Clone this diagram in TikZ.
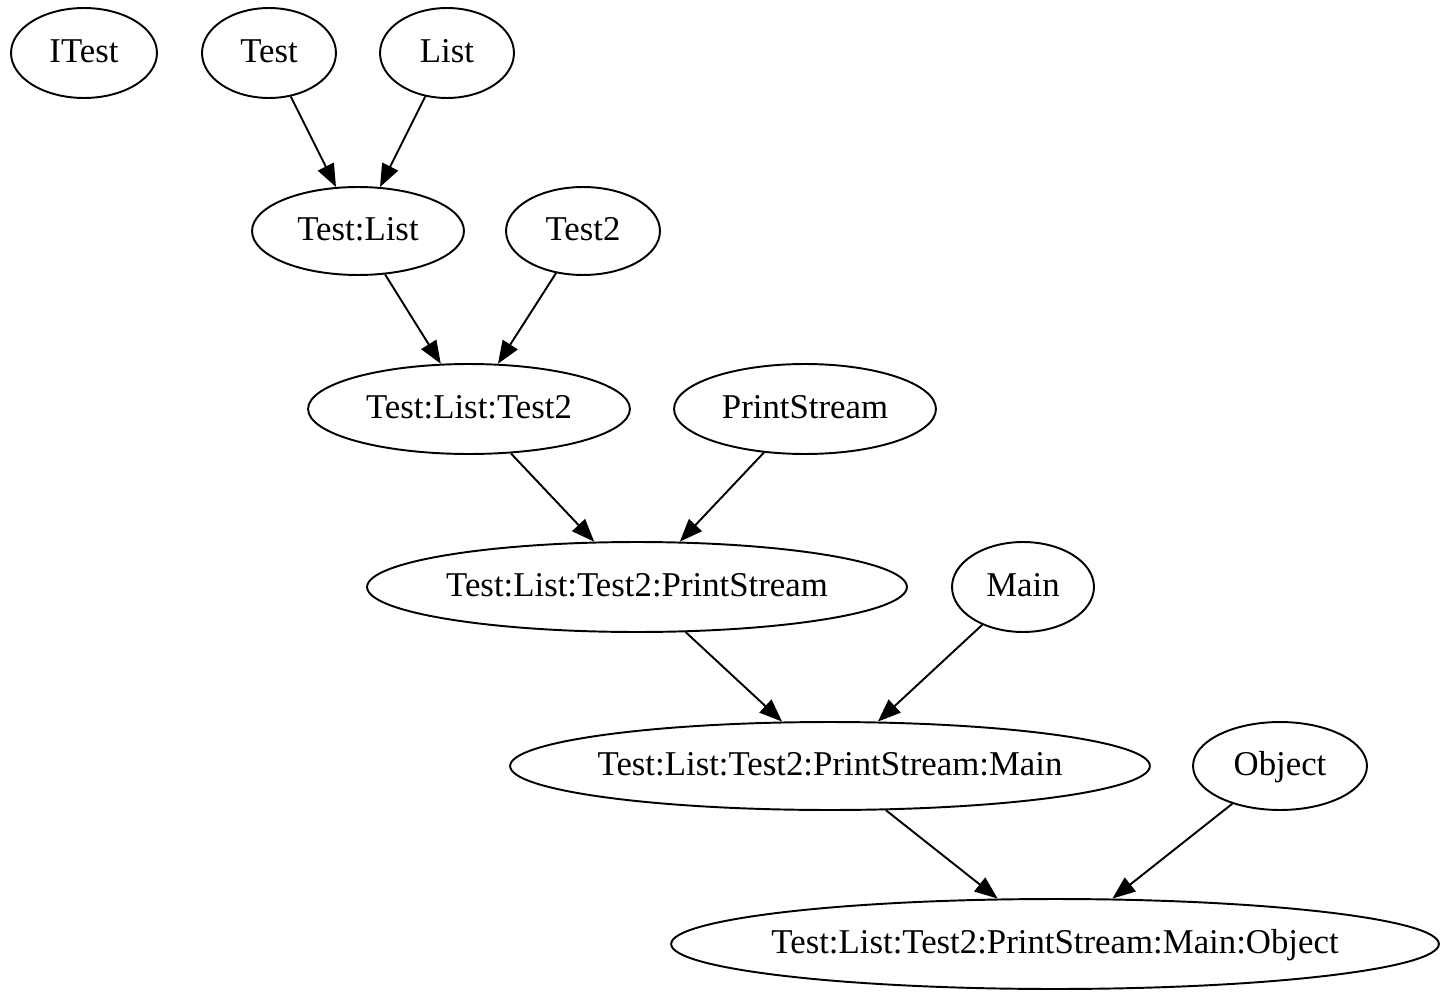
\documentclass[tikz,border=0pt]{standalone}
\usepackage{fontspec}
\setmainfont{Liberation Serif}
\usetikzlibrary{shapes.geometric,arrows.meta}
\tikzset{
  nd/.style 2 args={ellipse,draw,line width=1.1pt,inner sep=0pt,
    minimum width=#1*0.04cm,minimum height=#2*0.04cm,
    text height=1.1em,text depth=0pt,
    font=\fontsize{19.8}{22}\selectfont},
  edge/.style={line width=1.1pt,-{Triangle[length=13pt,width=10pt]}}
}
\newcommand{\zw}[1]{\makebox[0pt]{#1}}
\begin{document}
\begin{tikzpicture}[x=0.02cm,y=-0.02cm]
\useasboundingbox (0,0) rectangle (1450,1000);
\node[nd={73}{45}] (itest) at (84,53) {\zw{ITest}};
\node[nd={67}{45}] (test) at (269,53) {\zw{Test}};
\node[nd={67}{45}] (list) at (447,53) {\zw{List}};
\node[nd={106}{44}] (tl) at (358,231) {\zw{Test:List}};
\node[nd={77}{44}] (test2) at (583,231) {\zw{Test2}};
\node[nd={161}{45}] (tlt) at (469,409) {\zw{Test:List:Test2}};
\node[nd={131}{45}] (ps) at (805,409) {\zw{PrintStream}};
\node[nd={270}{45}] (tltp) at (637,587) {\zw{Test:List:Test2:PrintStream}};
\node[nd={71}{45}] (main) at (1023,587) {\zw{Main}};
\node[nd={320}{44}] (tltpm) at (830,766) {\zw{Test:List:Test2:PrintStream:Main}};
\node[nd={87}{44}] (obj) at (1280,766) {\zw{Object}};
\node[nd={384}{45}] (fin) at (1055,944) {\zw{Test:List:Test2:PrintStream:Main:Object}};
\draw[edge] (test) -- (tl);
\draw[edge] (list) -- (tl);
\draw[edge] (tl) -- (tlt);
\draw[edge] (test2) -- (tlt);
\draw[edge] (tlt) -- (tltp);
\draw[edge] (ps) -- (tltp);
\draw[edge] (tltp) -- (tltpm);
\draw[edge] (main) -- (tltpm);
\draw[edge] (tltpm) -- (fin);
\draw[edge] (obj) -- (fin);
\end{tikzpicture}
\end{document}
